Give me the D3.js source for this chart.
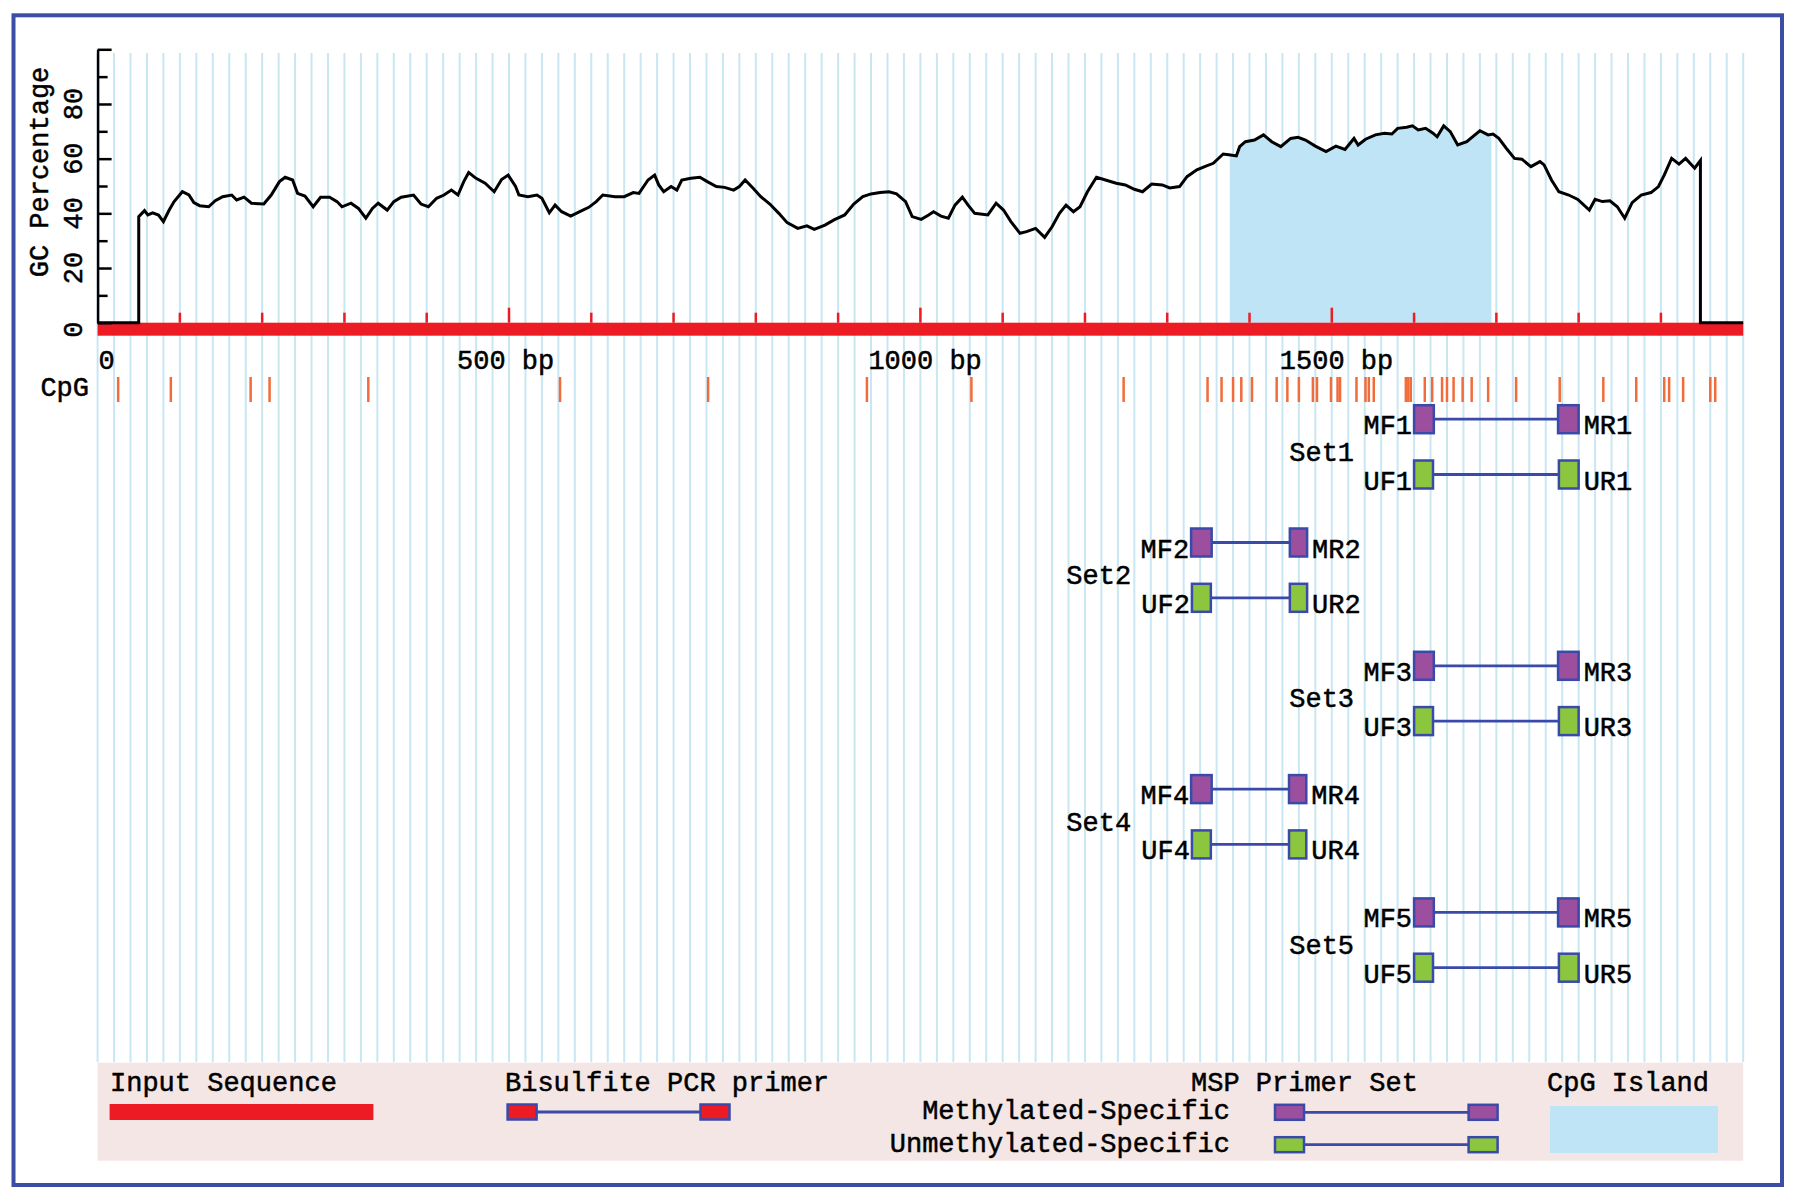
<!DOCTYPE html>
<html><head><meta charset="utf-8">
<script src="https://cdn.jsdelivr.net/npm/d3@7"></script>
<style>
html,body{margin:0;padding:0;background:#fff;}
svg{display:block;}
text{font-family:"Liberation Mono","DejaVu Sans Mono",monospace;font-size:27px;fill:#000;stroke:#000;stroke-width:0.5px;}
</style></head><body>
<svg id="chart" width="1795" height="1201"></svg>
<script>
// ---------------- DATA ----------------
const seqLength = 2000;
const gcPos = [0,50,50,57,61,67,74,80,87,93,103,111,117,124,135,143,152,163,169,178,187,202,211,221,228,237,243,252,262,271,282,291,297,308,317,326,334,341,352,360,369,384,393,402,412,421,430,438,445,451,460,471,482,491,499,508,512,523,534,540,549,556,564,575,586,597,606,614,629,640,651,
 658,669,677,682,688,697,704,710,721,732,741,752,762,773,780,787,797,806,817,828,838,851,862,871,884,895,908,919,930,940,951,962,971,982,990,1001,1010,1016,1025,1034,1042,1051,1058,1066,1082,1092,1101,1110,1121,1129,1140,1151,1160,1169,1177,1186,1194,1203,1214,1225,1238,1249,1260,1270,1281,1294,
 1303,1315,1324,1336,1347,1356,1368,1377,1384,1388,1395,1406,1417,1427,1438,1450,1459,1468,1480,1493,1505,1516,1527,1532,1541,1553,1564,1573,1580,1591,1598,1605,1614,1623,1628,1636,1644,1653,1664,1671,1680,1690,1696,1703,1712,1722,1731,1742,1753,1758,1767,1776,1788,1799,1813,1820,1829,1838,1847,1856,1865,1876,1888,1897,1904,1913,1922,1930,1941,1948,1948,2000];
const gcVal = [0,0,38.8,41,39.4,40.2,39.4,37,41.2,44.3,47.9,46.7,43.9,42.8,42.4,44.6,46.1,46.7,44.9,45.9,43.7,43.4,46.7,51.6,53.2,52.2,47.3,46.3,42.4,45.9,45.9,44.3,42.4,43.7,41.8,38.2,41.8,43.7,41.2,44.3,45.9,46.7,43.4,42.4,45.5,46.7,48.5,46.7,51.6,54.9,52.8,51,47.9,52.4,54,49.8,46.7,46.1,46.7,45.5,40.2,43,40.6,39,40.6,42.2,44.3,46.7,46.1,46.1,47.6,
 47.3,52.2,54,50.4,47.9,49.8,48.5,52.2,52.8,53.2,51.6,49.8,49.5,48.5,49.8,52.2,49.1,46.1,43.4,40,36.6,34.5,35.4,34.1,35.7,37.6,39.4,43.4,46.1,47.1,47.6,47.9,47.1,44.3,38.8,37.8,39.4,40.6,39,38.2,43,45.9,43,40,39.4,43.7,41.2,37,32.7,33.3,34.5,31.2,35.1,40,43,40.6,42.4,47.9,53.2,52.2,51,50.4,48.8,47.9,50.7,50.4,
 49.3,49.8,53.4,55.9,57.3,58.3,61.7,61.3,61,64.4,66.2,66.8,68.7,66.2,64.4,67.4,67.8,66.8,64.6,62.6,64.6,63.4,67.4,65,67.1,68.7,69.3,69,71.1,71.5,72,70.5,71.1,69.3,68,72,69.9,65,66.2,68,70.2,68.7,69,67.4,63.8,60.1,59.8,57.1,58.9,57.7,52.2,47.9,46.7,45.1,41.2,45.1,44.3,44.6,42.4,38.2,43.9,46.7,47.6,49.8,54,60.1,58,60.1,56.5,59.3,0,0];
const cpgSites = [25,89,186,209,329,562,742,935,1062,1247,1349,1366,1380,1390,1403,1433,1446,1460,1477,1482,1499,1507,1510,1530,1541,1545,1551,1590,1593,1596,1613,1622,1634,1640,1648,1659,1670,1690,1724,1777,1830,1870,1904,1910,1927,1960,1966];
const cpgIsland = [1376, 1694];
const yTickValues = [0,20,40,60,80];
const xLabelPos = [0,500,1000,1500];
const xLabels = ["0","500 bp","1000 bp","1500 bp"];
const setNames = ["Set1","Set2","Set3","Set4","Set5"];
const mfStart = [1600,1329,1600,1329,1600];
const mfEnd   = [1624,1354,1624,1354,1624];
const mrStart = [1775,1449,1775,1448,1775];
const mrEnd   = [1800,1470,1800,1469,1800];
const ufStart = [1600,1330,1600,1330,1600];
const ufEnd   = [1623,1353,1623,1353,1623];
const urStart = [1776,1449,1776,1448,1776];
const urEnd   = [1800,1470,1800,1469,1800];
const legendLabels = ["Input Sequence","Bisulfite PCR primer","MSP Primer Set","Methylated-Specific","Unmethylated-Specific","CpG Island"];

// ---------------- STYLE ----------------
const C = {grid:"#c8e7f3", island:"#bee4f5", red:"#ed1c24", cpg:"#f26b3a", border:"#3c4ea3",
  pline:"#3a4aa8", purple:"#9c4f9f", green:"#8cc63e", legend:"#f4e6e5"};

const svg = d3.select("#chart");
svg.append("rect").attr("width",1795).attr("height",1201).attr("fill","#fff");

const x = d3.scaleLinear().domain([0, seqLength]).range([97.6, 1743.2]);
const y = d3.scaleLinear().domain([0, 100]).range([322.7, 49.3]);

// grid
svg.append("g").selectAll("line").data(d3.range(0, seqLength + 1, 20)).join("line")
  .attr("x1", d => x(d)).attr("x2", d => x(d)).attr("y1", 53).attr("y2", 1062)
  .attr("stroke", C.grid).attr("stroke-width", 2);

const gc = gcPos.map((p, i) => ({p, v: gcVal[i]}));

// CpG island area
svg.append("clipPath").attr("id","islandClip").append("rect")
  .attr("x", x(cpgIsland[0])).attr("width", x(cpgIsland[1]) - x(cpgIsland[0]))
  .attr("y", 0).attr("height", 400);
svg.append("path").datum(gc).attr("clip-path","url(#islandClip)")
  .attr("fill", C.island)
  .attr("d", d3.area().x(d => x(d.p)).y0(y(0)).y1(d => y(d.v)));

// red sequence bar
svg.append("rect").attr("x", x(0)).attr("width", x(seqLength) - x(0))
  .attr("y", y(0)).attr("height", 13).attr("fill", C.red);
svg.append("g").selectAll("line").data(d3.range(100, seqLength, 100)).join("line")
  .attr("x1", d => x(d)).attr("x2", d => x(d))
  .attr("y1", d => d % 500 === 0 ? y(0) - 15 : y(0) - 10).attr("y2", y(0))
  .attr("stroke", C.red).attr("stroke-width", 2.5);

// y axis
const gAx = svg.append("g").attr("transform", `translate(${x(0)},0)`);
gAx.call(d3.axisRight(y).tickValues(d3.range(0, 101, 20)).tickSize(14).tickSizeOuter(0).tickFormat(""));
const gAx2 = svg.append("g").attr("transform", `translate(${x(0)},0)`);
gAx2.call(d3.axisRight(y).tickValues(d3.range(10, 100, 20)).tickSize(10).tickSizeOuter(0).tickFormat(""));
gAx2.select(".domain").remove();
svg.selectAll(".domain,.tick line").attr("stroke","#000").attr("stroke-width",2.5);

svg.append("g").selectAll("text").data(yTickValues).join("text")
  .attr("transform", d => `translate(82,${y(d) + (d === 0 ? 7 : 0)}) rotate(-90)`)
  .attr("text-anchor","middle").text(d => d);
svg.append("text").attr("transform","translate(48,172) rotate(-90)")
  .attr("text-anchor","middle").text("GC Percentage");

// x labels
svg.append("g").selectAll("text").data(xLabelPos).join("text")
  .attr("x", (d) => d === 0 ? x(d) + 1 : x(d) - 52).attr("y", 369)
  .text((d, i) => xLabels[i]);

// GC line
svg.append("path").datum(gc).attr("fill","none").attr("stroke","#000")
  .attr("stroke-width", 3).attr("stroke-linejoin","miter")
  .attr("d", d3.line().x(d => x(d.p)).y(d => y(d.v)));

// CpG sites
svg.append("text").attr("x", 89).attr("y", 396).attr("text-anchor","end").text("CpG");
svg.append("g").selectAll("line").data(cpgSites).join("line")
  .attr("x1", d => x(d)).attr("x2", d => x(d)).attr("y1", 377).attr("y2", 402)
  .attr("stroke", C.cpg).attr("stroke-width", 2.5);

// primer sets
const boxH = 28;
function primerRow(g, cy, fS, fE, rS, rE, fill, fLab, rLab) {
  g.append("line").attr("x1", x(fE)).attr("x2", x(rS)).attr("y1", cy).attr("y2", cy)
    .attr("stroke", C.pline).attr("stroke-width", 2.8);
  [[fS, fE], [rS, rE]].forEach(([s, e]) => {
    g.append("rect").attr("x", x(s)).attr("width", x(e) - x(s))
      .attr("y", cy - boxH / 2).attr("height", boxH)
      .attr("fill", fill).attr("stroke", C.pline).attr("stroke-width", 2.5);
  });
  g.append("text").attr("x", x(fS) - 2).attr("y", cy + 15).attr("text-anchor","end").text(fLab);
  g.append("text").attr("x", x(rE) + 5).attr("y", cy + 15).text(rLab);
}
setNames.forEach((name, i) => {
  const g = svg.append("g");
  const my = 419.2 + 123.3 * i, uy = my + 55.3;
  primerRow(g, my, mfStart[i], mfEnd[i], mrStart[i], mrEnd[i], C.purple, "MF" + (i + 1), "MR" + (i + 1));
  primerRow(g, uy, ufStart[i], ufEnd[i], urStart[i], urEnd[i], C.green, "UF" + (i + 1), "UR" + (i + 1));
  g.append("text").attr("x", x(Math.min(mfStart[i], ufStart[i])) - 60).attr("y", (my + uy) / 2 + 14)
    .attr("text-anchor","end").text(name);
});

// legend
const lg = svg.append("g");
lg.append("rect").attr("x", x(0)).attr("y", 1062.7).attr("width", x(seqLength) - x(0)).attr("height", 98)
  .attr("fill", C.legend);
lg.append("text").attr("x", 110).attr("y", 1091).text(legendLabels[0]);
lg.append("rect").attr("x", 109.6).attr("y", 1104).attr("width", 263.8).attr("height", 16).attr("fill", C.red);
lg.append("text").attr("x", 505).attr("y", 1091).text(legendLabels[1]);
function legendGlyph(x1, x2, cy, fill) {
  lg.append("line").attr("x1", x1 + 29).attr("x2", x2 - 29).attr("y1", cy).attr("y2", cy)
    .attr("stroke", C.pline).attr("stroke-width", 2.8);
  [x1, x2 - 29].forEach(bx => lg.append("rect").attr("x", bx).attr("y", cy - 7.5)
    .attr("width", 29).attr("height", 15).attr("fill", fill)
    .attr("stroke", C.pline).attr("stroke-width", 2.5));
}
legendGlyph(507.6, 729.5, 1112, C.red);
lg.append("text").attr("x", 1191).attr("y", 1091).text(legendLabels[2]);
lg.append("text").attr("x", 1230).attr("y", 1119).attr("text-anchor","end").text(legendLabels[3]);
lg.append("text").attr("x", 1230).attr("y", 1152).attr("text-anchor","end").text(legendLabels[4]);
legendGlyph(1275, 1497.6, 1112.3, C.purple);
legendGlyph(1275, 1497.6, 1144.7, C.green);
lg.append("text").attr("x", 1547).attr("y", 1091).text(legendLabels[5]);
lg.append("rect").attr("x", 1550).attr("y", 1106).attr("width", 168).attr("height", 47).attr("fill", C.island);

// outer border
svg.append("rect").attr("x", 13.5).attr("y", 15.3).attr("width", 1768.5).attr("height", 1169.7)
  .attr("fill","none").attr("stroke", C.border).attr("stroke-width", 4);
</script>
</body></html>
